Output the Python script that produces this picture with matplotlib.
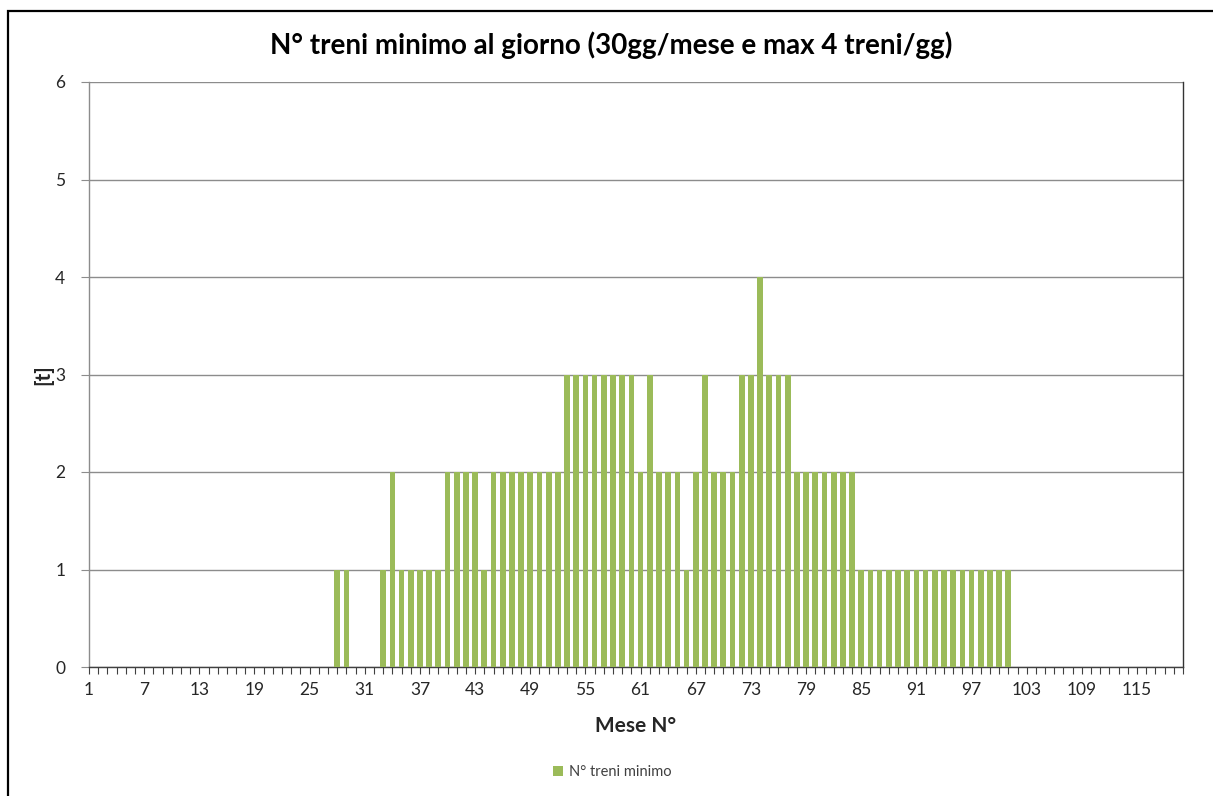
import matplotlib
matplotlib.use("Agg")
import matplotlib.pyplot as plt
from matplotlib.patches import Rectangle
from matplotlib.ticker import MultipleLocator, FixedLocator

plt.rcParams['font.family'] = ['Lato', 'DejaVu Sans']

# month number and minimum trains per day
months = list(range(1, 121))
treni_minimo = [
    0, 0, 0, 0, 0, 0, 0, 0, 0, 0, 0, 0,
    0, 0, 0, 0, 0, 0, 0, 0, 0, 0, 0, 0,
    0, 0, 0, 1, 1, 0, 0, 0, 1, 2, 1, 1,
    1, 1, 1, 2, 2, 2, 2, 1, 2, 2, 2, 2,
    2, 2, 2, 2, 3, 3, 3, 3, 3, 3, 3, 3,
    2, 3, 2, 2, 2, 1, 2, 3, 2, 2, 2, 3,
    3, 4, 3, 3, 3, 2, 2, 2, 2, 2, 2, 2,
    1, 1, 1, 1, 1, 1, 1, 1, 1, 1, 1, 1,
    1, 1, 1, 1, 1, 0, 0, 0, 0, 0, 0, 0,
    0, 0, 0, 0, 0, 0, 0, 0, 0, 0, 0, 0,
]
label_months = months[::6]
y_ticks = [0, 1, 2, 3, 4, 5, 6]

W, H = 1213, 796
fig = plt.figure(figsize=(W / 100, H / 100), dpi=100)
fig.patch.set_facecolor('white')

# outer frame of the chart area
fig.patches.append(Rectangle((8 / W, -0.05), 1.2, 1 - 11 / H + 0.05,
                             transform=fig.transFigure, fill=False,
                             edgecolor='black', linewidth=1.6))

left, right, top, bottom = 89, 1183, 82, 667
ax = fig.add_axes([left / W, 1 - bottom / H, (right - left) / W, (bottom - top) / H])

ax.bar(months, treni_minimo, width=0.62, color='#9BBB59', zorder=3,
       label='N° treni minimo')

ax.set_xlim(1, 120)
ax.set_ylim(0, 6)
ax.set_yticks(y_ticks)
ax.xaxis.set_major_locator(FixedLocator(label_months))
ax.xaxis.set_minor_locator(MultipleLocator(1))
ax.grid(axis='y', color='#8c8c8c', linewidth=1, zorder=0)

ax.tick_params(axis='x', which='both', direction='out', length=5, width=0.8,
               color='#404040', labelsize=12.5, labelcolor='#262626', pad=6)
ax.tick_params(axis='y', direction='out', length=6, width=0.8, color='#8c8c8c',
               labelsize=12.5, labelcolor='#262626', pad=11)

ax.spines['top'].set_visible(False)
ax.spines['left'].set_color('#8c8c8c')
ax.spines['bottom'].set_color('#404040')
ax.spines['right'].set_color('#333333')
for s in ax.spines.values():
    s.set_linewidth(1)

ax.set_xlabel('Mese N°', fontsize=15, fontweight='bold', color='#262626')
ax.xaxis.set_label_coords(0.5, -49 / (bottom - top))
ax.set_ylabel('[t]', fontsize=15, fontweight='bold', color='#262626')
ax.yaxis.set_label_coords(-(left - 53) / (right - left), 0.5)

fig.text(611 / W, 1 - 45 / H, 'N° treni minimo al giorno (30gg/mese e max 4 treni/gg)',
         ha='center', va='center', fontsize=20, fontweight='bold', color='black')

fig.legend(loc='center', bbox_to_anchor=(612 / W, 1 - 772 / H), frameon=False,
           fontsize=10.5, handlelength=0.7, handleheight=0.7, handletextpad=0.4,
           labelcolor='#404040')

fig.savefig('out.png', dpi=100)
